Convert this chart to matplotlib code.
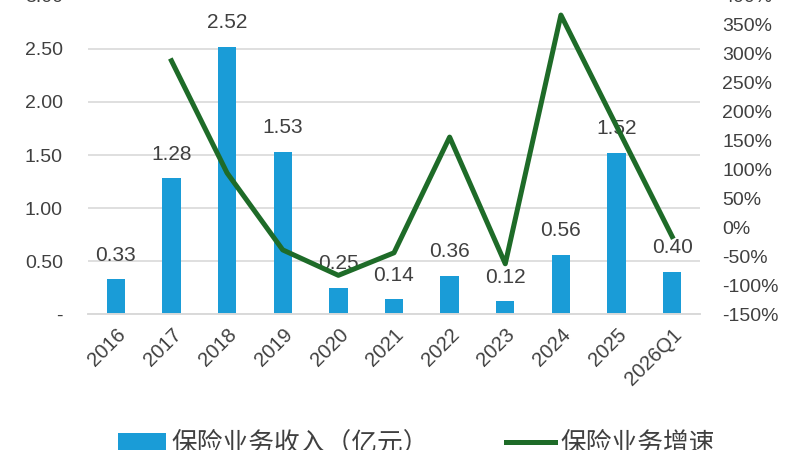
import numpy as np
import matplotlib.pyplot as plt
from matplotlib.ticker import FuncFormatter

plt.rcParams['font.family'] = ['Liberation Sans', 'Noto Sans CJK SC', 'DejaVu Sans']

years = ['2016', '2017', '2018', '2019', '2020', '2021', '2022', '2023', '2024', '2025', '2026Q1']
income = [0.33, 1.28, 2.52, 1.53, 0.25, 0.14, 0.36, 0.12, 0.56, 1.52, 0.40]
# growth, no value for the first year
growth_years = years[1:]
growth = [288, 94, -39, -83, -44, 156, -63, 367, 175, -16]

bar_color = '#1a9cd7'
line_color = '#1e6b28'
txt = '#404040'

fig = plt.figure(figsize=(8, 4.5), dpi=100)
ax = fig.add_axes([0.11, 0.302, 0.765, 0.707])
ax2 = ax.twinx()

x = np.arange(len(years))
ax.bar(x, income, width=0.33, color=bar_color, zorder=2, label='保险业务收入（亿元）')
for xi, v in zip(x, income):
    ax.annotate(f'{v:.2f}', (xi, v), xytext=(0, 10.5), textcoords='offset points',
                ha='center', va='bottom', fontsize=15, color=txt, zorder=5)

ax.set_xlim(-0.5, len(years) - 0.5)
ax.set_ylim(0, 3.0)
ax.set_yticks(np.arange(0, 3.01, 0.5))
ax.yaxis.set_major_formatter(FuncFormatter(lambda v, p: '-' if v == 0 else f'{v:.2f}'))
ax.grid(axis='y', color='#d9d9d9', linewidth=1.2, zorder=0)
ax.set_axisbelow(True)
ax.set_xticks(x)
ax.set_xticklabels(years, rotation=45, ha='right', rotation_mode='anchor')
ax.tick_params(axis='x', length=0, labelsize=14.5, labelcolor=txt, pad=8)
ax.tick_params(axis='y', length=0, labelsize=14, labelcolor=txt, pad=18)

gx = [years.index(g) for g in growth_years]
ax2.plot(gx, growth, color=line_color, linewidth=3.6, zorder=3, label='保险业务增速')
ax2.set_ylim(-150, 400)
ax2.set_yticks(np.arange(-150, 401, 50))
ax2.yaxis.set_major_formatter(FuncFormatter(lambda v, p: f'{v:.0f}%'))
ax2.tick_params(axis='y', length=0, labelsize=14, labelcolor=txt, pad=16)

for a in (ax, ax2):
    for s in ('top', 'left', 'right'):
        a.spines[s].set_visible(False)
    a.spines['bottom'].set_color('#d9d9d9')
    a.spines['bottom'].set_linewidth(1.2)

h1, l1 = ax.get_legend_handles_labels()
h2, l2 = ax2.get_legend_handles_labels()
fig.legend(h1 + h2, l1 + l2, loc='center', bbox_to_anchor=(0.52, 0.015), ncol=2,
           frameon=False, fontsize=18.5, labelcolor=txt, handlelength=1.9,
           handletextpad=0.2, columnspacing=3.0)

fig.savefig('out.png', dpi=100)
